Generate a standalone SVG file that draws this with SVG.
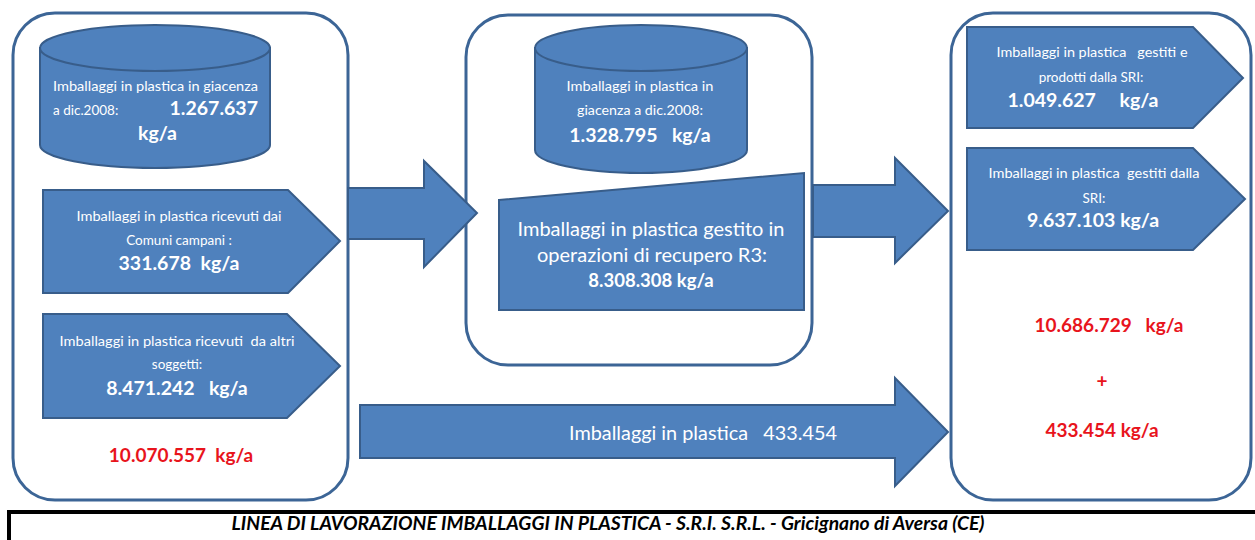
<svg xmlns="http://www.w3.org/2000/svg" width="1255" height="540" viewBox="0 0 1255 540">
<style>
.cont{fill:#ffffff;stroke:#3c6596;stroke-width:3}
.shape{fill:#4f81bd;stroke:#385d8a;stroke-width:2}
.t{font-family:Lato,"Open Sans",sans-serif;fill:#ffffff}
.s{font-size:13.5px}
.b{font-size:19.5px;font-weight:bold}
.m{font-size:18.5px}
.r{font-family:Lato,"Open Sans",sans-serif;fill:#e8141c;font-weight:bold;font-size:19px}
.f{font-family:Lato,"Open Sans",sans-serif;font-weight:bold;font-style:italic;font-size:18px;fill:#000}
</style>
<rect width="1255" height="540" fill="#ffffff"/>
<g id="left-container">
<rect class="cont" x="13" y="13" width="335" height="487" rx="42" ry="42"/>
</g>
<g id="middle-container">
<rect class="cont" x="466" y="15" width="346" height="350" rx="42" ry="42"/>
</g>
<g id="right-container">
<rect class="cont" x="951" y="13" width="300" height="487" rx="42" ry="42"/>
</g>
<g id="connectors">
<polygon class="shape" points="348,188 424,188 424,161 477,213 424,267 424,239 348,239"/>
<polygon class="shape" points="813,185 895,185 895,158 948,211 895,263 895,237 813,237"/>
<polygon class="shape" points="360,405 895,405 895,378 948,432 895,486 895,458 360,458"/>
<text class="t m" x="703" y="440" text-anchor="middle" textLength="268" lengthAdjust="spacingAndGlyphs" xml:space="preserve">Imballaggi in plastica   433.454</text>
</g>
<g id="stock-2008-left">
<path class="shape" d="M40,48 L40,145 A115,23 0 0 0 270,145 L270,48 Z"/>
<ellipse class="shape" cx="155" cy="48" rx="115" ry="23"/>
<text class="t s" x="53" y="91" textLength="205" lengthAdjust="spacingAndGlyphs">Imballaggi in plastica in giacenza</text>
<text class="t s" x="53" y="115">a dic.2008:</text>
<text class="t b" x="258" y="115" text-anchor="end">1.267.637</text>
<text class="t b" x="138" y="140">kg/a</text>
</g>
<g id="received-comuni">
<polygon class="shape" points="43,190 288,190 340,241 288,293 43,293"/>
<text class="t s" x="179" y="221" text-anchor="middle" textLength="205" lengthAdjust="spacingAndGlyphs">Imballaggi in plastica ricevuti dai</text>
<text class="t s" x="179" y="245" text-anchor="middle">Comuni campani :</text>
<text class="t b" x="179" y="270" text-anchor="middle" xml:space="preserve">331.678  kg/a</text>
</g>
<g id="received-altri">
<polygon class="shape" points="43,314 287,314 340,366 287,418 43,418"/>
<text class="t s" x="177" y="346" text-anchor="middle" textLength="235" lengthAdjust="spacingAndGlyphs" xml:space="preserve">Imballaggi in plastica ricevuti  da altri</text>
<text class="t s" x="177" y="369" text-anchor="middle">soggetti:</text>
<text class="t b" x="177" y="395" text-anchor="middle" xml:space="preserve">8.471.242   kg/a</text>
</g>
<g id="total-left">
<text class="r" x="181" y="462" text-anchor="middle" xml:space="preserve">10.070.557  kg/a</text>
</g>
<g id="stock-2008-middle">
<path class="shape" d="M535,48 L535,150 A106,23 0 0 0 747,150 L747,48 Z"/>
<ellipse class="shape" cx="641" cy="48" rx="106" ry="23"/>
<text class="t s" x="640" y="91" text-anchor="middle" textLength="147" lengthAdjust="spacingAndGlyphs">Imballaggi in plastica in</text>
<text class="t s" x="640" y="115" text-anchor="middle" textLength="126" lengthAdjust="spacingAndGlyphs">giacenza a dic.2008:</text>
<text class="t b" x="640" y="142" text-anchor="middle" xml:space="preserve">1.328.795   kg/a</text>
</g>
<g id="recupero-r3">
<polygon class="shape" points="499,200 804,173 804,310 499,310"/>
<text class="t m" x="651" y="236" text-anchor="middle" textLength="267" lengthAdjust="spacingAndGlyphs">Imballaggi in plastica gestito in</text>
<text class="t m" x="652" y="262" text-anchor="middle" textLength="230" lengthAdjust="spacingAndGlyphs">operazioni di recupero R3:</text>
<text class="t m" x="651" y="287" text-anchor="middle" font-weight="bold" font-size="19.5px">8.308.308 kg/a</text>
</g>
<g id="gestiti-prodotti">
<polygon class="shape" points="967,27 1193,27 1243,78 1193,128 967,128"/>
<text class="t s" x="1092" y="57" text-anchor="middle" textLength="191" lengthAdjust="spacingAndGlyphs" xml:space="preserve">Imballaggi in plastica   gestiti e</text>
<text class="t s" x="1091" y="82" text-anchor="middle">prodotti dalla SRI:</text>
<text class="t b" x="1083" y="107" text-anchor="middle" xml:space="preserve">1.049.627     kg/a</text>
</g>
<g id="gestiti-sri">
<polygon class="shape" points="967,148 1193,148 1245,199 1193,250 967,250"/>
<text class="t s" x="1094" y="178" text-anchor="middle" textLength="211" lengthAdjust="spacingAndGlyphs" xml:space="preserve">Imballaggi in plastica  gestiti dalla</text>
<text class="t s" x="1094" y="203" text-anchor="middle">SRI:</text>
<text class="t b" x="1093" y="227" text-anchor="middle">9.637.103 kg/a</text>
</g>
<g id="total-right">
<text class="r" x="1109" y="332" text-anchor="middle" xml:space="preserve">10.686.729   kg/a</text>
<text class="r" x="1102" y="388" text-anchor="middle">+</text>
<text class="r" x="1102" y="437" text-anchor="middle">433.454 kg/a</text>
</g>
<g id="footer">
<path d="M9,541 L9,512 L1256,512" fill="none" stroke="#000" stroke-width="4"/>
<text class="f" x="608" y="530" text-anchor="middle" textLength="753" lengthAdjust="spacingAndGlyphs">LINEA DI LAVORAZIONE IMBALLAGGI IN PLASTICA - S.R.I. S.R.L. - Gricignano di Aversa (CE)</text>
</g>
</svg>
